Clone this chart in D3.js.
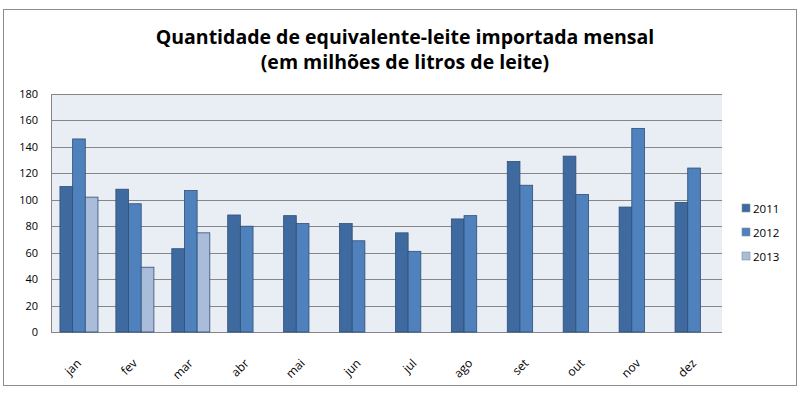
<!DOCTYPE html>
<html>
<head>
<meta charset="utf-8">
<script src="https://cdn.jsdelivr.net/npm/d3@7"></script>
<style>
  body { margin: 0; background: #fff; }
  svg { display: block; font-family: "Open Sans", "Liberation Sans", sans-serif; }
</style>
</head>
<body>
<div id="chart"></div>
<script>
// dados
const months = ['jan', 'fev', 'mar', 'abr', 'mai', 'jun', 'jul', 'ago', 'set', 'out', 'nov', 'dez'];
const series = ['2011', '2012', '2013'];
const values2011 = [110, 108, 63, 88.5, 88, 82, 75, 85.5, 129, 133, 94.5, 98];
const values2012 = [146, 97, 107, 80, 82, 69, 61, 88, 111, 104, 154, 124];
const values2013 = [102, 49, 75, null, null, null, null, null, null, null, null, null];
const yTicks = [0, 20, 40, 60, 80, 100, 120, 140, 160, 180];
const colors = ['#3f6a9f', '#4f81bd', '#a9bcd9'];

const width = 800, height = 398;
const plot = { left: 51, right: 722, top: 94, bottom: 332 };

const svg = d3.select('#chart').append('svg')
  .attr('width', width)
  .attr('height', height);

// moldura externa
svg.append('rect')
  .attr('x', 3.5).attr('y', 9.5)
  .attr('width', 793).attr('height', 376)
  .attr('fill', '#fff')
  .attr('stroke', '#8c8c8c');

// título
const title = svg.append('text')
  .attr('text-anchor', 'middle')
  .style('font-weight', 'bold')
  .style('font-size', '19.5px')
  .style('fill', '#000');
title.append('tspan').attr('x', 405).attr('y', 44).text('Quantidade de equivalente-leite importada mensal');
title.append('tspan').attr('x', 405).attr('y', 69).text('(em milhões de litros de leite)');

const y = d3.scaleLinear().domain([0, 180]).range([plot.bottom, plot.top]);
const x0 = d3.scaleBand().domain(months).range([plot.left, plot.right])
  .paddingInner(0.32).paddingOuter(0.16);
const x1 = d3.scaleBand().domain(series).range([0, x0.bandwidth()]);

// fundo da área de plotagem
svg.append('rect')
  .attr('x', plot.left).attr('y', plot.top)
  .attr('width', plot.right - plot.left).attr('height', plot.bottom - plot.top)
  .attr('fill', '#e9edf4');

// linhas de grade
svg.append('g')
  .selectAll('line')
  .data(yTicks)
  .enter().append('line')
  .attr('x1', plot.left).attr('x2', plot.right)
  .attr('y1', d => Math.round(y(d)) + 0.5)
  .attr('y2', d => Math.round(y(d)) + 0.5)
  .attr('stroke', '#868686');

// borda esquerda do eixo
svg.append('line')
  .attr('x1', plot.left + 0.5).attr('x2', plot.left + 0.5)
  .attr('y1', plot.top).attr('y2', plot.bottom)
  .attr('stroke', '#868686');

// eixo y
const yAxis = svg.append('g')
  .attr('transform', `translate(${plot.left},0)`)
  .call(d3.axisLeft(y).tickValues(yTicks).tickSize(0).tickPadding(13));
yAxis.select('.domain').remove();
yAxis.selectAll('text')
  .style('font-size', '11px')
  .style('fill', '#000')
  .style('font-family', '"Open Sans", "Liberation Sans", sans-serif');

// barras
const allValues = [values2011, values2012, values2013];
const rows = months.map((m, i) => ({
  month: m,
  items: series.map((s, j) => ({ s, j, v: allValues[j][i] })).filter(d => d.v != null)
}));

const groups = svg.append('g')
  .selectAll('g')
  .data(rows)
  .enter().append('g')
  .attr('transform', d => `translate(${x0(d.month)},0)`);

groups.selectAll('rect')
  .data(d => d.items)
  .enter().append('rect')
  .attr('x', d => x1(d.s))
  .attr('y', d => y(d.v))
  .attr('width', x1.bandwidth())
  .attr('height', d => plot.bottom - y(d.v))
  .attr('fill', d => colors[d.j])
  .attr('stroke', '#2f4f78')
  .attr('stroke-width', 0.8);

// rótulos dos meses
svg.append('g')
  .selectAll('text')
  .data(months)
  .enter().append('text')
  .attr('transform', d => `translate(${x0(d) + x0.bandwidth() / 2 + 3},${plot.bottom + 32}) rotate(-45)`)
  .attr('text-anchor', 'end')
  .style('font-size', '12px')
  .style('fill', '#000')
  .text(d => d);

// legenda
const legend = svg.append('g')
  .attr('transform', 'translate(742,204)');
const li = legend.selectAll('g')
  .data(series)
  .enter().append('g')
  .attr('transform', (d, i) => `translate(0,${i * 24})`);
li.append('rect')
  .attr('width', 8).attr('height', 8)
  .attr('fill', (d, i) => colors[i])
  .attr('stroke', '#7f8fa6')
  .attr('stroke-width', 0.6);
li.append('text')
  .attr('x', 11).attr('y', 8.5)
  .style('font-size', '11.5px')
  .style('fill', '#000')
  .text(d => d);
</script>
</body>
</html>
